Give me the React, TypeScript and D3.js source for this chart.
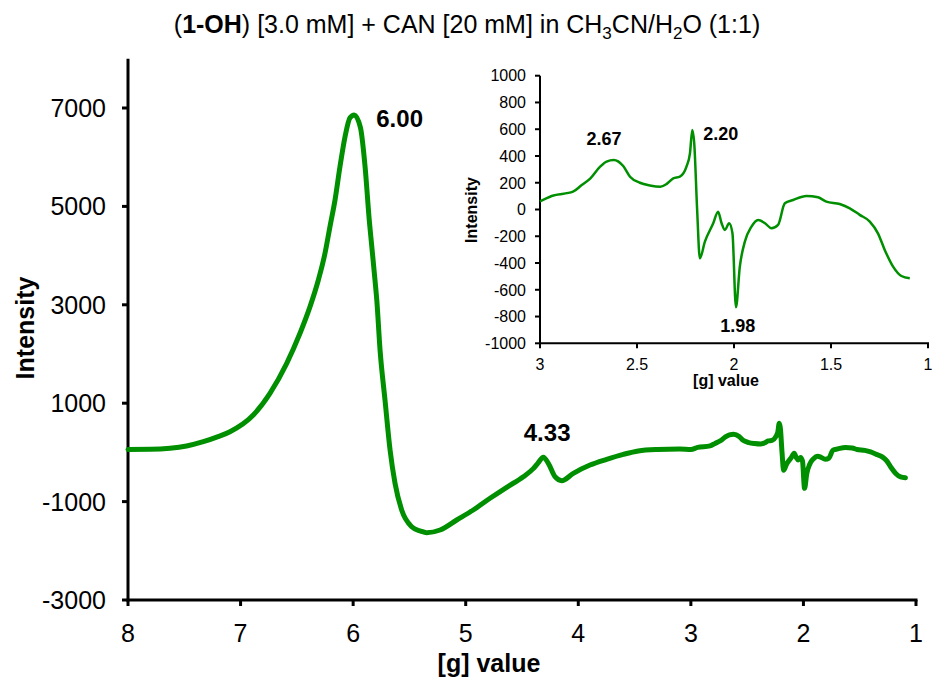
import React from "react";
import * as d3 from "d3";

const gValues = [
  8.0, 7.8, 7.627, 7.48, 7.331, 7.2, 7.094, 6.887, 6.739, 6.59, 6.472, 6.383, 6.309, 6.25, 6.206, 6.161,
  6.117, 6.072, 6.028, 5.99, 5.935, 5.894, 5.856, 5.835, 5.806, 5.79, 5.761, 5.717, 5.672, 5.628, 5.569,
  5.48, 5.4, 5.347, 5.228, 5.08, 4.933, 4.784, 4.636, 4.488, 4.4, 4.36, 4.311, 4.266, 4.207, 4.147, 4.044,
  3.896, 3.748, 3.6, 3.467, 3.3, 3.1,
  3.0, 2.94, 2.83, 2.785, 2.74, 2.69, 2.657, 2.62, 2.571, 2.536, 2.485, 2.434, 2.38, 2.348, 2.313, 2.279,
  2.245, 2.227, 2.215, 2.205, 2.19, 2.176, 2.15, 2.107, 2.082, 2.064, 2.047, 2.025, 2.008, 1.99, 1.97,
  1.944, 1.91, 1.876, 1.84, 1.807, 1.773, 1.738, 1.695, 1.627, 1.567, 1.524, 1.455, 1.403, 1.352, 1.3,
  1.258, 1.223, 1.18, 1.137, 1.094,
];
const intensity = [
  60, 62, 83, 130, 217, 320, 421, 760, 1201, 1811, 2421, 2962, 3504, 4047, 4587, 5130,
  5807, 6417, 6800, 6860, 6600, 5807, 4700, 4200, 3504, 3098, 2081, 1065, 49, -628, -1171,
  -1510, -1600, -1632, -1577, -1374, -1171, -933, -709, -494, -330, -222, -100, -222, -494, -575, -425,
  -256, -140, -40, 30, 60, 70,
  60, 101, 133, 183, 233, 320, 358, 370, 325, 245, 200, 180, 170, 190, 233, 245,
  320, 420, 594, 495, -3, -365, -240, -103, -16, -103, -153, -103, -178, -730, -427,
  -240, -128, -78, -103, -140, -115, 46, 71, 101, 91, 59, 41, 9, -40, -90,
  -178, -302, -427, -497, -514,
];

const mainXTicks = [8, 7, 6, 5, 4, 3, 2, 1];
const mainYTicks = [-3000, -1000, 1000, 3000, 5000, 7000];
const insetXTicks = [3, 2.5, 2, 1.5, 1];
const insetYTicks = [-1000, -800, -600, -400, -200, 0, 200, 400, 600, 800, 1000];

const mainLabels = [
  { g: 5.99, v: 6860, text: "6.00" },
  { g: 4.33, v: -100, text: "4.33" },
];
const insetLabels = [
  { g: 2.67, v: 370, text: "2.67" },
  { g: 2.2, v: 594, text: "2.20" },
  { g: 1.98, v: -730, text: "1.98" },
];

const GREEN = "#008f00";
const FONT = "'Liberation Sans', Arial, sans-serif";

export default function App() {
  const data = gValues.map((g, i) => ({ g, v: intensity[i] }));
  const x = d3.scaleLinear().domain([8, 1]).range([128, 916]);
  const y = d3.scaleLinear().domain([-3000, 8000]).range([600, 58.8]);
  const xi = d3.scaleLinear().domain([3, 1]).range([540, 928]);
  const yi = d3.scaleLinear().domain([-1000, 1000]).range([343.3, 75.7]);

  const mainLine = d3
    .line<{ g: number; v: number }>()
    .x((d) => x(d.g))
    .y((d) => y(d.v))
    .curve(d3.curveMonotoneX);
  const insetData = data.filter((d) => d.g <= 3);
  const insetLine = d3
    .line<{ g: number; v: number }>()
    .x((d) => xi(d.g))
    .y((d) => yi(d.v))
    .curve(d3.curveMonotoneX);

  return (
    <svg width={934} height={684} style={{ position: "absolute", left: 0, top: 0, background: "#fff" }} fontFamily={FONT}>
      {/* Title */}
      <text x={467} y={33} textAnchor="middle" fontSize={25} fill="#000">
        (<tspan fontWeight="bold">1-OH</tspan>) [3.0 mM] + CAN [20 mM] in CH
        <tspan fontSize={17} dy={6}>3</tspan>
        <tspan dy={-6}>CN/H</tspan>
        <tspan fontSize={17} dy={6}>2</tspan>
        <tspan dy={-6}>O (1:1)</tspan>
      </text>

      {/* Main axes */}
      <line x1={128} x2={128} y1={y(8000)} y2={601.5} stroke="#000" strokeWidth={3} />
      <line x1={126.5} x2={x(1) + 1.5} y1={600} y2={600} stroke="#000" strokeWidth={3} />
      {mainYTicks.map((t) => (
        <g key={"my" + t}>
          <line x1={122} x2={128} y1={y(t)} y2={y(t)} stroke="#000" strokeWidth={3} />
          <text x={106} y={y(t)} dy="0.36em" textAnchor="end" fontSize={25}>
            {t}
          </text>
        </g>
      ))}
      {mainXTicks.map((t) => (
        <g key={"mx" + t}>
          <line x1={x(t)} x2={x(t)} y1={600} y2={606} stroke="#000" strokeWidth={3} />
          <text x={x(t)} y={642} textAnchor="middle" fontSize={25}>
            {t}
          </text>
        </g>
      ))}
      <text x={489} y={672} textAnchor="middle" fontSize={25} fontWeight="bold">
        [g] value
      </text>
      <text transform={`translate(34,328) rotate(-90)`} textAnchor="middle" fontSize={25} fontWeight="bold">
        Intensity
      </text>

      {/* Main line */}
      <path d={mainLine(data) || ""} fill="none" stroke={GREEN} strokeWidth={5} strokeLinejoin="round" strokeLinecap="round" />
      <text x={x(mainLabels[0].g) + 22} y={y(mainLabels[0].v) + 12} fontSize={24} fontWeight="bold">
        {mainLabels[0].text}
      </text>
      <text x={x(mainLabels[1].g) + 6} y={y(mainLabels[1].v) - 16} textAnchor="middle" fontSize={24} fontWeight="bold">
        {mainLabels[1].text}
      </text>

      {/* Inset axes */}
      <line x1={540} x2={540} y1={yi(1000)} y2={yi(-1000) + 1} stroke="#000" strokeWidth={2} />
      <line x1={539} x2={xi(1) + 1} y1={yi(-1000)} y2={yi(-1000)} stroke="#000" strokeWidth={2} />
      {insetYTicks.map((t) => (
        <g key={"iy" + t}>
          <line x1={535} x2={540} y1={yi(t)} y2={yi(t)} stroke="#000" strokeWidth={2} />
          <text x={526} y={yi(t)} dy="0.36em" textAnchor="end" fontSize={16}>
            {t}
          </text>
        </g>
      ))}
      {insetXTicks.map((t) => (
        <g key={"ix" + t}>
          <line x1={xi(t)} x2={xi(t)} y1={yi(-1000)} y2={yi(-1000) + 5} stroke="#000" strokeWidth={2} />
          <text x={xi(t)} y={370} textAnchor="middle" fontSize={16}>
            {t}
          </text>
        </g>
      ))}
      <text x={726} y={386} textAnchor="middle" fontSize={16} fontWeight="bold">
        [g] value
      </text>
      <text transform={`translate(477,210) rotate(-90)`} textAnchor="middle" fontSize={16} fontWeight="bold">
        Intensity
      </text>
      <path d={insetLine(insetData) || ""} fill="none" stroke={GREEN} strokeWidth={2.5} strokeLinejoin="round" />
      <text x={xi(insetLabels[0].g)} y={145} textAnchor="middle" fontSize={18} fontWeight="bold">
        {insetLabels[0].text}
      </text>
      <text x={xi(insetLabels[1].g) + 8} y={140} fontSize={18} fontWeight="bold">
        {insetLabels[1].text}
      </text>
      <text x={xi(insetLabels[2].g)} y={332} textAnchor="middle" fontSize={18} fontWeight="bold">
        {insetLabels[2].text}
      </text>
    </svg>
  );
}
